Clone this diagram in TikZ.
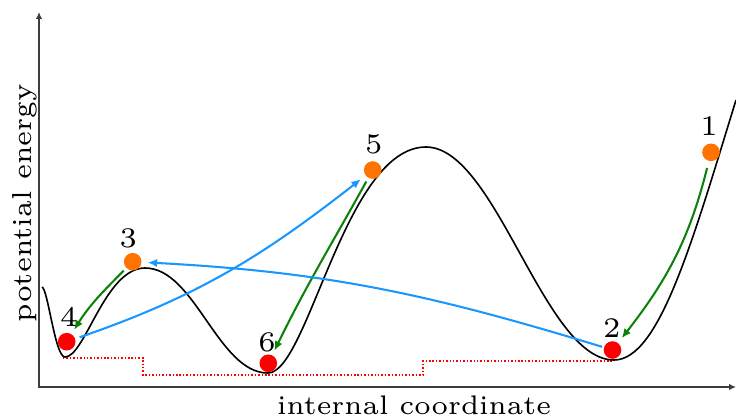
\documentclass[tikz,border=0pt]{standalone}
\usetikzlibrary{arrows.meta}
\definecolor{ballorange}{RGB}{255,115,0}
\definecolor{ballred}{RGB}{255,0,0}
\definecolor{arrgreen}{RGB}{10,130,10}
\definecolor{arrblue}{RGB}{25,150,255}
\definecolor{axisgray}{RGB}{60,60,60}
\begin{document}
\begin{tikzpicture}[x=0.2045pt,y=0.2045pt,
  lab/.style={font=\fontsize{5.6}{6.6}\selectfont, inner sep=0pt},
  xlab/.style={font=\fontsize{5.5}{6.5}\selectfont, inner sep=0pt},
  num/.style={font=\fontsize{5.8}{6.8}\selectfont, inner sep=0pt},
  ball/.style={circle, inner sep=0pt, minimum size=3.6pt},
  obal/.style={ball, fill=ballorange},
  rbal/.style={ball, fill=ballred},
  garrow/.style={draw=arrgreen, line width=0.42pt, -{Latex[length=1.9pt,width=1.7pt]}},
  barrow/.style={draw=arrblue, line width=0.42pt, -{Latex[length=1.9pt,width=1.7pt]}},
  axisline/.style={draw=axisgray, line width=0.4pt},
  pes/.style={draw=black, line width=0.33pt},
  levels/.style={draw=red, line width=0.4pt, dash pattern=on 0.3pt off 0.4pt},
]
\useasboundingbox (0,0) rectangle (736,417);
% axes
\draw[axisline, {Latex[length=1.4pt,width=1.3pt]}-{Latex[length=1.4pt,width=1.3pt]}] (39,405) -- (39,30) -- (736,30);
\node[xlab, anchor=base] (xl) at (414,2.3) {internal coordinate};
\node[lab, rotate=90, anchor=base] (yl) at (31,214) {potential energy};
% energy levels
\draw[levels] (63,59) -- (143,59) -- (143,42) -- (423,42) -- (423,56) -- (613,56);
% potential energy surface
\draw[pes] (42,130) .. controls (48,128) and (55,60) .. (65,60)
  .. controls (85,60) and (105,149) .. (145,149)
  .. controls (195,149) and (218,44) .. (268,44)
  .. controls (308,44) and (345,270) .. (426,270)
  .. controls (496,270) and (544,57) .. (614,57)
  .. controls (659,57) and (692,174) .. (736,317);
% balls
\node[obal] (b1) at (711,264.7) {};
\node[rbal] (b2) at (612.5,67) {};
\node[obal] (b3) at (132.7,155.3) {};
\node[rbal] (b4) at (66.7,75.3) {};
\node[obal] (b5) at (372.7,247) {};
\node[rbal] (b6) at (268.3,53.7) {};
% labels
\node[num, anchor=base] (t1) at (709,282) {1};
\node[num, anchor=base] (t2) at (611.7,79.3) {2};
\node[num, anchor=base] (t3) at (128.3,169.7) {3};
\node[num, anchor=base] (t4) at (68.7,90.3) {4};
\node[num, anchor=base] (t5) at (373.7,263.7) {5};
\node[num, anchor=base] (t6) at (267,65.3) {6};
% relaxation (green)
\draw[garrow, shorten <=1.3pt, shorten >=1.1pt] (b1) to[out=-104,in=52] (b2);
\draw[garrow, shorten <=0.6pt, shorten >=0.9pt] (b3) to[out=-135,in=58] (b4);
\draw[garrow, shorten <=0.7pt, shorten >=0.9pt] (b5) to[out=-119,in=64] (b6);
% jumps (blue)
\draw[barrow, shorten <=0.2pt, shorten >=1.1pt] (b2) to[out=163,in=-3] (b3);
\draw[barrow, shorten <=0.8pt, shorten >=1.1pt] (b4) to[out=19,in=-142] (b5);
\end{tikzpicture}
\end{document}
